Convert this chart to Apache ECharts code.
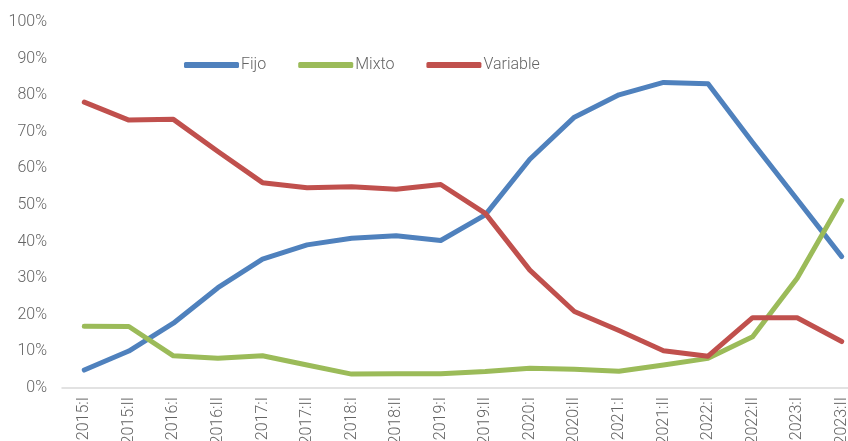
<!DOCTYPE html>
<html>
<head>
<meta charset="utf-8">
<script src="https://cdn.jsdelivr.net/npm/echarts@6/dist/echarts.min.js"></script>
<style>
  html, body { margin: 0; padding: 0; background: #fff; }
  #chart { width: 848px; height: 441px; }
</style>
</head>
<body>
<div id="chart"></div>
<script>
// Half-year periods
const periods = ['2015:I','2015:II','2016:I','2016:II','2017:I','2017:II','2018:I','2018:II','2019:I',
  '2019:II','2020:I','2020:II','2021:I','2021:II','2022:I','2022:II','2023:I','2023:II'];

// Share of each rate type (%)
const fijo = [4.9, 10.1, 17.7, 27.4, 35.2, 39.1, 40.9, 41.6, 40.3, 47.3, 62.5, 74.0, 80.1, 83.5, 83.1, 67.1, 51.5, 35.9];
const mixto = [16.9, 16.8, 8.8, 8.1, 8.8, 6.3, 3.8, 3.9, 3.9, 4.5, 5.4, 5.1, 4.6, 6.3, 8.1, 14.0, 30.0, 51.2];
const variable = [78.1, 73.2, 73.4, 64.6, 56.1, 54.7, 55.0, 54.3, 55.6, 47.7, 32.2, 20.9, 15.7, 10.2, 8.7, 19.2, 19.2, 12.7];

const yTicks = [0, 10, 20, 30, 40, 50, 60, 70, 80, 90, 100];

const textColor = '#646464';
const font = 'Roboto';

function lineSeries(name, data, color) {
  return {
    name, type: 'line', data,
    symbol: 'none',
    lineStyle: { width: 5, color, cap: 'round', join: 'round' },
    itemStyle: { color },
    animation: false
  };
}

const chart = echarts.init(document.getElementById('chart'), null, { renderer: 'canvas' });
chart.setOption({
  backgroundColor: '#fff',
  animation: false,
  grid: { left: 62, right: -16, top: 22, bottom: 53, containLabel: false, outerBoundsMode: 'none' },
  legend: {
    left: 184, top: 57, padding: 0,
    icon: 'roundRect',
    itemWidth: 55, itemHeight: 6, itemGap: 32,
    textStyle: { color: textColor, fontSize: 16, fontFamily: font, fontWeight: 300, padding: [0, 0, 0, -3] },
    data: ['Fijo', 'Mixto', 'Variable']
  },
  xAxis: {
    type: 'category',
    data: periods,
    boundaryGap: true,
    axisLine: { lineStyle: { color: '#D9D9D9', width: 1.5 } },
    axisTick: { show: false },
    axisLabel: {
      rotate: 90, interval: 0, margin: 9,
      color: textColor, fontSize: 16, fontFamily: font, fontWeight: 300
    }
  },
  yAxis: {
    type: 'value',
    min: yTicks[0], max: yTicks[yTicks.length - 1], interval: 10,
    splitLine: { show: false },
    axisLine: { show: false },
    axisTick: { show: false },
    axisLabel: {
      margin: 15,
      color: textColor, fontSize: 16, fontFamily: font, fontWeight: 300,
      formatter: v => v + '%'
    }
  },
  series: [
    lineSeries('Fijo', fijo, '#4F81BD'),
    lineSeries('Mixto', mixto, '#9BBB59'),
    lineSeries('Variable', variable, '#C0504D')
  ]
});
</script>
</body>
</html>
